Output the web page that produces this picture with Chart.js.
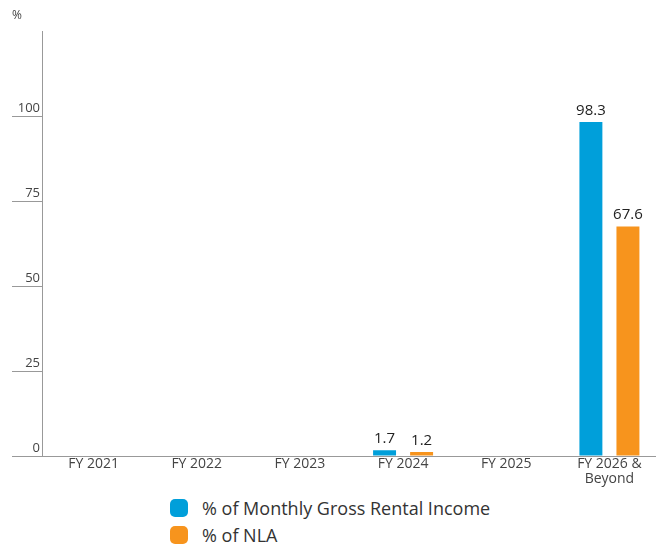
<!DOCTYPE html>
<html><head><meta charset="utf-8">
<script src="https://cdn.jsdelivr.net/npm/chart.js@4.4.0/dist/chart.umd.min.js"></script>
<style>
html,body{margin:0;padding:0;background:#fff;}
#wrap{position:relative;width:656px;height:546px;overflow:hidden;}
#c{position:absolute;left:0;top:0;}
#legend{position:absolute;left:170px;top:494px;font-family:"Open Sans",sans-serif;font-size:18px;color:#333;}
.item{display:flex;align-items:center;height:27px;}
.sw{width:18px;height:18px;border-radius:5px;margin-right:14px;}
</style></head>
<body>
<div id="wrap"><canvas id="c" width="661" height="490"></canvas><div id="legend"></div></div>
<script>
const categories = ["FY 2021","FY 2022","FY 2023","FY 2024","FY 2025",["FY 2026 &","Beyond"]];
const seriesNames = ["% of Monthly Gross Rental Income","% of NLA"];
const grossRentalIncome = [0,0,0,1.7,0,98.3];
const nla = [0,0,0,1.2,0,67.6];
const yTicks = [0,25,50,75,100];
const colors = ["#009FDA","#F7941D"];

const valueLabels = {
  id:'valueLabels',
  afterDatasetsDraw(chart){
    const ctx = chart.ctx;
    ctx.save();
    ctx.font = '15px "Open Sans", sans-serif';
    ctx.fillStyle = '#222';
    ctx.textAlign = 'center';
    ctx.textBaseline = 'bottom';
    chart.data.datasets.forEach((ds,i)=>{
      chart.getDatasetMeta(i).data.forEach((el,j)=>{
        const v = ds.data[j];
        if(!v) return;
        ctx.fillText(v.toFixed(1), el.x, el.y - 4);
      });
    });
    ctx.restore();
  }
};

new Chart(document.getElementById('c'),{
  type:'bar',
  data:{labels:categories,datasets:[
    {label:seriesNames[0],data:grossRentalIncome,backgroundColor:colors[0]},
    {label:seriesNames[1],data:nla,backgroundColor:colors[1]}
  ]},
  options:{
    responsive:false,animation:false,
    layout:{padding:{left:12,right:0,top:0,bottom:0}},
    datasets:{bar:{categoryPercentage:0.718,barPercentage:0.62}},
    plugins:{
      legend:{display:false},tooltip:{enabled:false},
      title:{display:true,text:'%',align:'start',color:'#444',font:{family:'"Open Sans", sans-serif',size:12,weight:'normal'},padding:{top:8,bottom:9}}
    },
    scales:{
      x:{
        grid:{display:false,drawTicks:false},
        border:{display:true,color:'#999',width:1},
        ticks:{color:'#444',font:{family:'"Open Sans", sans-serif',size:14,lineHeight:1.05},padding:1,maxRotation:0,autoSkip:false},
        afterFit(s){s.height=34;}
      },
      y:{
        min:0,max:125,
        border:{display:true,color:'#999',width:1},
        grid:{drawOnChartArea:false,drawTicks:true,tickLength:30,color:'#999'},
        afterBuildTicks(s){s.ticks = yTicks.map(v=>({value:v}));},
        ticks:{color:'#444',font:{family:'"Open Sans", sans-serif',size:13},padding:-28,labelOffset:-8},
        afterFit(s){s.width=30;}
      }
    }
  },
  plugins:[valueLabels]
});

const lg = document.getElementById('legend');
seriesNames.forEach((n,i)=>{
  const d=document.createElement('div');d.className='item';
  d.innerHTML='<div class="sw" style="background:'+colors[i]+'"></div><span>'+n+'</span>';
  lg.appendChild(d);
});
</script>
</body></html>
